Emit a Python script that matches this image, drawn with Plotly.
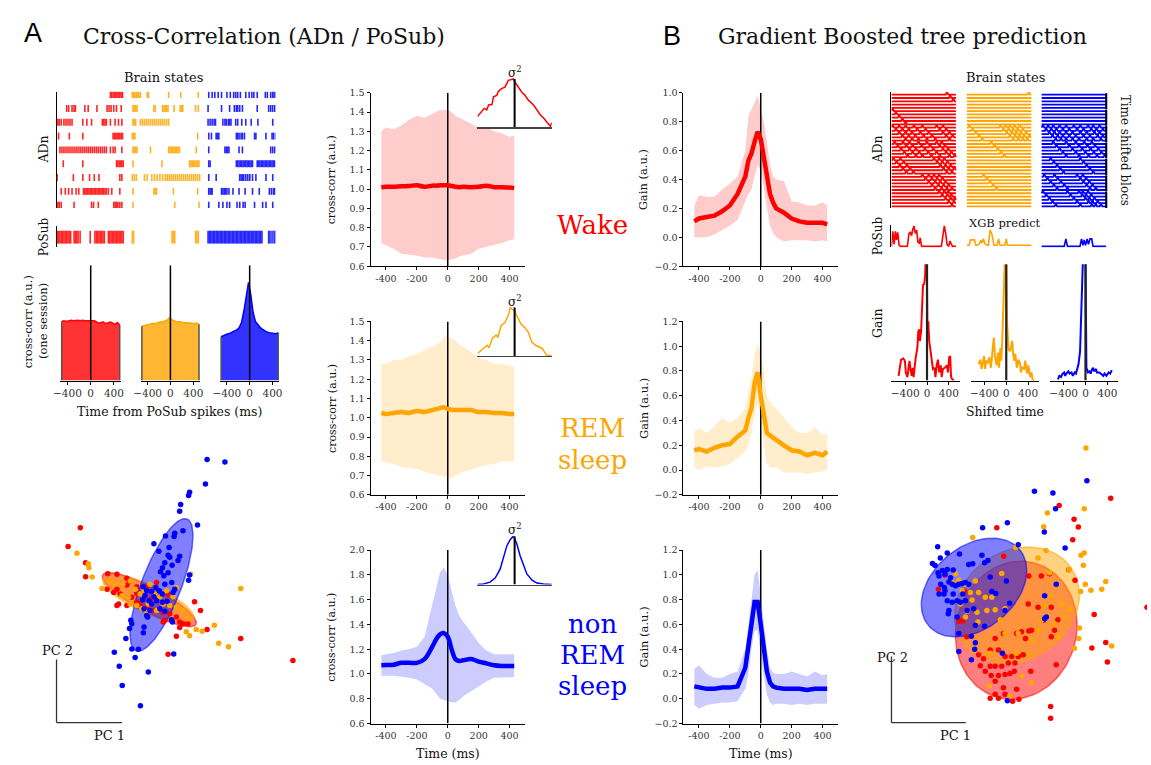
import numpy as np
import plotly.graph_objects as go

W, H = 1151, 765
SERIF = "DejaVu Serif"
SANS = "Liberation Sans"
RED, ORANGE, BLUE = "#ff0000", "#ffa500", "#0000ff"
STATE_COLORS = [RED, ORANGE, BLUE]
STATE_RGB = ["255,0,0", "255,165,0", "0,0,255"]

# ---------------- DATA ----------------
# Left raster: spike times (0-100 within each epoch), 9 ADn neurons, per brain state
adn_spikes_wake = [
    [80, 82, 84, 86, 88, 90, 92, 94, 96, 98],
    [15, 18, 23, 26, 28, 42, 47, 60, 75, 78, 81, 85, 89, 96],
    [0, 2, 4, 7, 11, 14, 17, 20, 23, 39, 45, 52, 68, 70, 72, 74, 80, 87, 92, 97],
    [3, 19, 39, 84, 86, 88, 90, 92, 94, 96, 98],
    [5, 8, 11, 14, 17, 20, 23, 26, 29, 32, 35, 38, 41, 44, 47, 50, 53, 56, 59, 62, 65, 68, 71, 74, 80, 84, 87, 97],
    [10, 39, 89, 91, 93, 95, 97, 99],
    [1, 25, 39, 49, 56, 63, 94, 97],
    [7, 13, 18, 23, 29, 33, 40, 42, 44, 46, 48, 50, 52, 54, 56, 58, 60, 62, 64, 66, 68, 70, 72, 74, 77, 82, 94],
    [0, 2, 4, 7, 26, 52, 55, 62, 85, 87, 89, 91, 94, 97],
]
adn_spikes_rem = [
    [0, 2, 4, 6, 8, 10, 12, 22, 24, 54, 72, 98],
    [1, 3, 5, 7, 32, 34, 45, 47, 49, 51, 53, 62, 71, 73, 75, 94, 98],
    [1, 3, 5, 12, 15, 18, 21, 24, 27, 30, 33, 36, 39, 42, 45, 48, 51, 54],
    [0, 2, 4, 97],
    [1, 3, 5, 7, 27, 54, 56, 58, 60, 62, 64, 66, 68, 70, 95],
    [1, 44, 85, 87, 89, 91, 93, 95, 97, 99],
    [0, 3, 6, 18, 22, 29, 33, 37, 41, 45, 49, 52, 55, 58, 61, 64, 67, 70, 73, 76, 79, 82, 85, 88, 91, 94, 97, 100],
    [1, 32, 34, 36, 61, 97],
    [1, 63, 99],
]
adn_spikes_nrem = [
    [1, 6, 10, 15, 20, 28, 33, 38, 41, 44, 48, 56, 61, 65, 68, 73, 85, 88, 93, 96, 98, 100],
    [0, 20, 32, 39, 42, 44, 47, 51, 73, 90, 93, 96, 99, 101],
    [0, 3, 6, 9, 11, 22, 25, 27, 30, 32, 34, 41, 44, 50, 56, 64, 74, 96],
    [1, 5, 12, 14, 16, 42, 44, 46, 49, 51, 54, 69, 71, 86, 95, 97, 100],
    [1, 25, 27, 29, 31, 46, 51, 93, 96, 99, 101],
    [1, 3, 42, 44, 46, 48, 50, 52, 54, 56, 58, 60, 62, 64, 66, 73, 75, 77, 79, 81, 83, 85, 87, 89, 91, 93, 95, 97, 99],
    [1, 12, 47, 49, 51, 53, 56, 59, 62, 66, 71, 86, 96],
    [1, 3, 5, 6, 20, 22, 24, 26, 28, 31, 37, 46, 55, 66, 76, 91, 94, 97, 99],
    [1, 16, 22, 28, 32, 43, 47, 52, 55, 69, 81, 86, 96],
]
posub_spikes_wake = [1, 3, 5, 7, 9, 11, 13, 15, 17, 19, 21, 26, 28, 30, 32, 35, 50, 57, 59, 61, 63, 65, 67, 69, 71,
                     77, 79, 81, 83, 85, 87, 89, 91, 93, 95, 97, 99]
posub_spikes_rem = [0, 2, 59, 61, 63, 94, 96, 98]
posub_spikes_nrem = [0, 2, 4, 6, 8, 10, 12, 14, 16, 18, 20, 22, 24, 26, 28, 30, 32, 34, 36, 38, 40, 42, 44, 46, 48,
                     50, 52, 54, 56, 58, 60, 62, 64, 66, 68, 70, 72, 74, 76, 78, 80, 90, 92, 95, 98, 100]

# One-session cross-correlograms (ms, a.u.)
hist_t = [-500, -460, -420, -380, -340, -300, -260, -220, -180, -140, -100, -60, -20, 20, 60, 100, 140, 180, 220,
          260, 300, 340, 380, 420, 460, 500]
hist_wake = [1.0, 1.01, 1.0, 1.01, 1.02, 1.01, 1.02, 1.02, 1.01, 1.02, 1.01, 1.01, 1.0, 1.0, 1.01, 0.99, 0.97, 0.98,
             0.99, 0.96, 0.97, 0.99, 0.97, 0.95, 0.98, 0.94]
hist_rem = [0.92, 0.93, 0.93, 0.94, 0.96, 0.97, 0.96, 0.98, 0.99, 0.99, 1.0, 1.02, 1.06, 1.03, 1.01, 1.0, 1.0, 0.99,
            0.98, 0.98, 0.98, 0.97, 0.97, 0.96, 0.97, 0.95]
hist_nrem = [0.74, 0.76, 0.77, 0.79, 0.80, 0.82, 0.84, 0.86, 0.90, 0.99, 1.18, 1.46, 1.66, 1.45, 1.15, 1.0, 0.94,
             0.90, 0.87, 0.84, 0.82, 0.81, 0.80, 0.80, 0.79, 0.81]

# Average cross-correlations (mean and band)
cc_t = [-430, -400, -350, -300, -250, -200, -150, -100, -75, -50, -25, 0, 25, 50, 75, 100, 150, 200, 250, 300, 350,
        400, 430]
cc_wake_mean = [1.010, 1.012, 1.012, 1.015, 1.016, 1.020, 1.012, 1.018, 1.018, 1.020, 1.020, 1.020, 1.016, 1.012,
                1.010, 1.012, 1.010, 1.012, 1.018, 1.010, 1.010, 1.008, 1.005]
cc_wake_hi = [1.30, 1.32, 1.31, 1.33, 1.36, 1.38, 1.37, 1.39, 1.40, 1.41, 1.41, 1.41, 1.40, 1.38, 1.37, 1.36, 1.34,
              1.32, 1.32, 1.30, 1.29, 1.27, 1.28]
cc_wake_lo = [0.72, 0.71, 0.69, 0.665, 0.66, 0.655, 0.645, 0.645, 0.64, 0.635, 0.632, 0.63, 0.635, 0.64, 0.65, 0.655,
              0.665, 0.69, 0.70, 0.71, 0.72, 0.735, 0.74]
cc_rem_mean = [1.025, 1.02, 1.025, 1.03, 1.025, 1.035, 1.03, 1.04, 1.045, 1.05, 1.055, 1.045, 1.042, 1.04, 1.04,
               1.04, 1.04, 1.03, 1.03, 1.025, 1.025, 1.02, 1.02]
cc_rem_hi = [1.28, 1.28, 1.30, 1.30, 1.32, 1.33, 1.35, 1.37, 1.38, 1.39, 1.42, 1.42, 1.41, 1.40, 1.38, 1.37, 1.34,
             1.31, 1.30, 1.28, 1.28, 1.27, 1.265]
cc_rem_lo = [0.775, 0.77, 0.76, 0.745, 0.74, 0.735, 0.72, 0.71, 0.705, 0.70, 0.695, 0.69, 0.685, 0.70, 0.71, 0.72,
             0.73, 0.745, 0.755, 0.76, 0.775, 0.775, 0.775]
cc_nrem_mean = [1.07, 1.072, 1.075, 1.09, 1.09, 1.09, 1.12, 1.22, 1.28, 1.32, 1.33, 1.30, 1.20, 1.12, 1.105, 1.11,
                1.12, 1.10, 1.085, 1.07, 1.065, 1.065, 1.065]
cc_nrem_hi = [1.15, 1.16, 1.17, 1.19, 1.20, 1.22, 1.30, 1.55, 1.70, 1.82, 1.86, 1.80, 1.67, 1.55, 1.47, 1.42, 1.34,
              1.25, 1.19, 1.16, 1.16, 1.16, 1.16]
cc_nrem_lo = [0.985, 0.985, 0.985, 0.98, 0.97, 0.955, 0.92, 0.88, 0.84, 0.80, 0.79, 0.78, 0.77, 0.77, 0.79, 0.82,
              0.86, 0.90, 0.94, 0.97, 0.975, 0.975, 0.975]

# Insets: normalised variance profiles
inset_wake_x = [-1, -0.88, -0.82, -0.75, -0.7, -0.61, -0.57, -0.48, -0.44, -0.35, -0.26, -0.17, -0.08, -0.03, 0.01,
                0.10, 0.19, 0.28, 0.37, 0.51, 0.6, 0.69, 0.78, 0.91, 0.96, 1.0]
inset_wake_y = [0.22, 0.32, 0.39, 0.36, 0.46, 0.47, 0.63, 0.66, 0.74, 0.80, 0.83, 0.97, 0.99, 1.0, 0.93, 0.83, 0.73,
                0.66, 0.56, 0.46, 0.36, 0.26, 0.19, 0.07, 0.02, 0.09]
inset_rem_x = [-1.0, -0.88, -0.79, -0.74, -0.69, -0.60, -0.50, -0.45, -0.36, -0.26, -0.16, -0.12, -0.07, 0, 0.08,
               0.17, 0.27, 0.37, 0.46, 0.56, 0.65, 0.75, 0.85, 1.0]
inset_rem_y = [0.05, 0.12, 0.19, 0.22, 0.17, 0.36, 0.43, 0.39, 0.63, 0.69, 0.86, 1.0, 0.97, 0.93, 0.80, 0.66, 0.59,
               0.49, 0.29, 0.22, 0.19, 0.15, 0.02, 0.0]
inset_nrem_x = [-1, -0.84, -0.66, -0.52, -0.39, -0.30, -0.21, -0.12, -0.05, -0.01, 0.06, 0.15, 0.24, 0.33, 0.47,
                0.60, 0.78, 1.0]
inset_nrem_y = [0, 0.01, 0.05, 0.14, 0.32, 0.56, 0.80, 0.93, 0.99, 0.97, 0.84, 0.59, 0.39, 0.22, 0.09, 0.03, 0.01, 0]

# Gain (XGB) per state
gain_t = [-430, -400, -350, -300, -250, -200, -150, -100, -80, -60, -40, -20, 0, 20, 40, 60, 80, 100, 150, 200, 250,
          300, 350, 400, 430]
gain_wake_mean = [0.11, 0.13, 0.14, 0.15, 0.18, 0.22, 0.30, 0.42, 0.53, 0.58, 0.66, 0.73, 0.68, 0.55, 0.40, 0.30,
                  0.24, 0.20, 0.17, 0.13, 0.11, 0.10, 0.10, 0.10, 0.09]
gain_wake_hi = [0.22, 0.29, 0.28, 0.28, 0.33, 0.37, 0.42, 0.60, 0.84, 0.88, 0.93, 0.98, 0.90, 0.80, 0.66, 0.50, 0.42,
                0.40, 0.39, 0.25, 0.24, 0.22, 0.22, 0.24, 0.22]
gain_wake_lo = [0.0, 0.0, 0.0, 0.02, 0.05, 0.08, 0.12, 0.25, 0.30, 0.33, 0.42, 0.50, 0.46, 0.35, 0.20, 0.08, 0.03,
                0.0, -0.03, -0.02, -0.02, -0.02, -0.03, -0.02, -0.03]
gain_rem_mean = [0.16, 0.17, 0.15, 0.18, 0.20, 0.21, 0.27, 0.32, 0.42, 0.50, 0.70, 0.79, 0.60, 0.42, 0.30, 0.28, 0.26,
                 0.24, 0.20, 0.16, 0.15, 0.12, 0.14, 0.12, 0.15]
gain_rem_hi = [0.31, 0.34, 0.30, 0.35, 0.42, 0.38, 0.42, 0.50, 0.62, 0.75, 0.93, 1.02, 0.95, 0.80, 0.60, 0.55, 0.52,
               0.50, 0.42, 0.35, 0.30, 0.30, 0.35, 0.28, 0.30]
gain_rem_lo = [0.02, 0.0, 0.03, 0.02, 0.03, 0.05, 0.10, 0.15, 0.20, 0.30, 0.45, 0.55, 0.45, 0.20, 0.05, 0.02, 0.02,
               0.02, -0.02, -0.02, -0.02, -0.03, -0.02, -0.01, 0.0]
gain_nrem_mean = [0.10, 0.09, 0.08, 0.08, 0.09, 0.09, 0.10, 0.25, 0.40, 0.60, 0.78, 0.78, 0.60, 0.40, 0.22, 0.13,
                  0.10, 0.09, 0.08, 0.08, 0.08, 0.07, 0.08, 0.08, 0.08]
gain_nrem_hi = [0.24, 0.27, 0.20, 0.17, 0.17, 0.20, 0.22, 0.40, 0.60, 0.80, 1.00, 1.04, 0.85, 0.62, 0.40, 0.25, 0.21,
                0.20, 0.20, 0.22, 0.20, 0.18, 0.22, 0.19, 0.20]
gain_nrem_lo = [-0.05, -0.08, -0.05, -0.04, -0.03, -0.03, -0.02, 0.08, 0.20, 0.40, 0.55, 0.55, 0.35, 0.18, 0.03,
                -0.03, -0.05, -0.04, -0.04, -0.05, -0.04, -0.05, -0.04, -0.04, -0.04]

# Right raster: spike events of each time-shifted bloc (7 blocs x 5 shifted copies)
bloc_events_wake = [[86], [2], [2, 12, 22, 35, 48, 70, 80], [5, 18, 28, 42, 55, 70, 78], [3, 14, 66, 74, 82],
                    [48, 58, 66, 74], [74, 82, 88]]
bloc_events_rem = [[96], [], [4, 52, 60, 67, 74, 82], [38], [], [26], []]
bloc_events_nrem = [[], [], [2, 10, 18, 28, 38, 50, 60, 72, 80, 90], [18, 38, 53, 66, 78], [14, 60],
                    [4, 20, 55, 64], [2, 40, 58, 64, 72]]
bloc_shift = 5  # time shift between consecutive copies (epoch units)
n_shifts = 5

# XGB prediction of PoSub
xgb_t_wake = [0, 2.1, 4.1, 6.2, 7.7, 9.7, 11.8, 14.4, 24.6, 27.2, 29.2, 31.3, 32.8, 34.9, 36.9, 39, 41, 43.1, 44.6,
              46.7, 77.4, 80, 82, 84.1, 86.2, 88.7, 90.8, 92.8, 94.9, 100]
xgb_wake = [0, 0.7, 0.1, 0.7, 0.3, 0.65, 0.05, 0, 0, 0.6, 0.65, 0.5, 0.75, 0.95, 0.6, 0.75, 0.2, 0.15, 0.4, 0, 0, 0.5,
            0.95, 0.6, 0.1, 0, 0.25, 0.1, 0, 0]
xgb_t_rem = [0, 3.6, 5.6, 11.8, 13.8, 15.9, 19, 21.5, 23.1, 25.6, 28.2, 33.3, 35.9, 38.5, 40.5, 42.1, 46.7, 49.2, 51.3,
             59, 61, 63.1, 100]
xgb_rem = [0.05, 0.05, 0.3, 0.3, 0.05, 0.05, 0.1, 0.3, 0.15, 0.35, 0.1, 0.05, 0.75, 0.6, 0.3, 0.05, 0.05, 0.35, 0.05,
           0.05, 0.35, 0.05, 0.05]
xgb_t_nrem = [0, 35, 37.6, 40.1, 59.4, 61.9, 64, 66, 68, 70.6, 72.6, 75.1, 77.7, 79.7, 100]
xgb_nrem = [0, 0, 0.35, 0, 0, 0.35, 0.05, 0.3, 0.05, 0.35, 0.1, 0.35, 0.35, 0, 0]

# Gain vs shifted time (one session)
shift_t_wake = [-520, -474, -434, -405, -388, -360, -337, -320, -303, -280, -263, -246, -206, -177, -160, -143, -131,
                -108, -91, -74, -51, -34, -17, -6, 6, 23, 40, 63, 80, 108, 137, 154, 177, 200, 223, 251, 268, 291,
                326, 366, 383, 406, 423, 440, 463, 497]
shift_gain_wake = [0.04, 0.18, 0.19, 0.17, 0.07, 0.03, 0.11, 0.17, 0.10, 0.04, 0.11, 0.03, 0.20, 0.28, 0.42, 0.44,
                   0.34, 0.42, 0.62, 0.82, 0.83, 0.90, 1.2, 1.2, 0.48, 0.51, 0.34, 0.25, 0.18, 0.10, 0.11, 0.03, 0.13,
                   0.18, 0.07, 0.13, 0.03, 0.10, 0.11, 0.13, 0.07, 0.20, 0.21, 0.03, 0.01, 0.0]
shift_t_rem = [-503, -474, -451, -428, -405, -388, -365, -337, -308, -280, -251, -228, -206, -177, -148, -131, -108,
               -91, -74, -51, -34, -17, 0, 15, 40, 63, 80, 108, 126, 148, 166, 194, 223, 251, 268, 291, 326, 348, 383,
               405, 440, 463, 485, 508]
shift_gain_rem = [0.14, 0.18, 0.10, 0.17, 0.21, 0.10, 0.17, 0.15, 0.20, 0.11, 0.23, 0.37, 0.21, 0.13, 0.24, 0.11,
                  0.28, 0.17, 0.34, 0.62, 0.92, 1.15, 1.0, 0.5, 0.28, 0.25, 0.27, 0.34, 0.23, 0.17, 0.23, 0.11, 0.18,
                  0.15, 0.07, 0.11, 0.10, 0.17, 0.06, 0.13, 0.03, 0.07, 0.0, 0.01]
shift_t_nrem = [-505, -476, -447, -418, -389, -371, -348, -313, -290, -255, -232, -197, -174, -151, -128, -99, -70,
                -46, -30, -15, 0, 10, 17, 46, 75, 93, 116, 133, 162, 191, 209, 249, 278, 325, 348, 383, 423, 452, 481]
shift_gain_nrem = [0.01, 0.04, 0.03, 0.06, 0.07, 0.04, 0.06, 0.08, 0.06, 0.07, 0.04, 0.07, 0.06, 0.10, 0.14, 0.25,
                   0.62, 0.99, 1.3, 1.3, 1.1, 0.5, 0.11, 0.07, 0.08, 0.06, 0.10, 0.11, 0.08, 0.10, 0.07, 0.07, 0.06,
                   0.04, 0.06, 0.04, 0.07, 0.06, 0.09]

# PCA of cross-correlations (left) and of gains (right), arbitrary units
pcaA_wake_pc1 = [129, 92, 145, 145, 212, 240, 270, 278, 240, 210, 230, 250, 270, 300, 330, 300, 285, 245, 240, 270, 300,
                 330, 350, 380, 400, 420, 385, 430, 440, 455, 475, 493, 430, 513, 420, 615, 395, 773, 380, 310, 345,
                 360, 395]
pcaA_wake_pc2 = [-268, -325, -375, -417, -408, -410, -422, -432, -455, -455, -465, -470, -442, -448, -450, -468, -480,
                 -500, -505, -505, -495, -510, -520, -525, -530, -540, -550, -555, -560, -560, -493, -520, -572, -578,
                 -598, -605, -653, -672, -555, -500, -483, -435, -470]
pcaA_rem_pc1 = [119, 153, 155, 165, 195, 220, 235, 258, 280, 295, 310, 322, 340, 355, 370, 390, 410, 380, 360, 330, 315,
                300, 275, 255, 420, 440, 455, 463, 420, 615, 535, 480, 498, 450, 460, 548, 578, 335, 280, 400]
pcaA_rem_pc2 = [-346, -378, -390, -418, -453, -432, -440, -440, -430, -455, -470, -458, -440, -470, -478, -460, -478,
                -500, -520, -525, -515, -505, -480, -475, -510, -520, -545, -410, -450, -453, -565, -578, -583, -585,
                -597, -620, -630, -500, -500, -505]
pcaA_nrem_pc1 = [513, 567, 508, 460, 457, 433, 430, 484, 440, 415, 387, 413, 352, 398, 367, 395, 400, 430, 425, 385,
                 407, 378, 395, 372, 382, 460, 457, 406, 385, 415, 320, 330, 345, 358, 368, 377, 352, 325, 318, 337,
                 360, 378, 392, 410, 370, 385, 340, 322, 330, 405, 408, 282, 285, 322, 278, 320, 267, 285, 305, 232,
                 295, 412, 247, 335, 256, 311, 333, 345]
pcaA_nrem_pc2 = [-60, -68, -135, -160, -170, -197, -218, -260, -277, -285, -293, -295, -317, -328, -340, -352, -358,
                 -355, -368, -375, -382, -390, -405, -402, -414, -412, -428, -435, -440, -455, -448, -460, -462, -450,
                 -460, -470, -478, -475, -487, -490, -490, -495, -492, -465, -515, -522, -520, -515, -535, -548, -555,
                 -550, -560, -570, -575, -588, -605, -637, -638, -647, -663, -652, -690, -707, -748, -810, -540, -500]
pcaB_wake_pc1 = [760, 604, 649, 662, 645, 415, 436, 258, 238, 318, 300, 312, 324, 633, 652, 512, 550, 575, 510, 540,
                 580, 600, 556, 520, 512, 490, 475, 502, 435, 410, 395, 420, 440, 460, 480, 495, 360, 375, 395, 410,
                 430, 450, 470, 365, 380, 398, 420, 440, 455, 468, 518, 410, 435, 410, 440, 475, 395, 420, 463, 482,
                 578, 578, 595, 703, 745, 750, 710, 870, 580, 590]
pcaB_wake_pc2 = [-178, -200, -242, -266, -305, -268, -355, -412, -455, -462, -552, -552, -600, -396, -428, -415, -415,
                 -408, -500, -510, -510, -548, -550, -580, -582, -585, -590, -605, -590, -605, -640, -640, -660, -660,
                 -660, -655, -655, -667, -690, -690, -690, -680, -680, -688, -705, -718, -718, -715, -712, -705, -705,
                 -735, -755, -775, -775, -760, -787, -787, -796, -790, -812, -848, -685, -634, -617, -677, -532, -510,
                 -600, -580]
pcaB_rem_pc1 = [685, 680, 568, 557, 342, 472, 564, 540, 670, 680, 677, 634, 575, 430, 290, 300, 282, 318, 350, 310,
                335, 360, 380, 400, 340, 305, 325, 355, 385, 410, 440, 426, 358, 320, 683, 700, 733, 745, 669, 636,
                612, 665, 663, 650, 763, 560, 580, 540, 520, 512, 475, 395, 392, 490, 520, 455, 590, 550, 480, 440,
                600, 620]
pcaB_rem_pc2 = [-25, -210, -223, -265, -298, -328, -337, -360, -352, -345, -382, -395, -405, -407, -408, -428, -435,
                -440, -430, -460, -465, -465, -480, -480, -488, -500, -522, -525, -520, -518, -515, -548, -555, -540,
                -440, -458, -455, -432, -462, -516, -500, -573, -605, -635, -628, -505, -478, -580, -610, -655, -650,
                -650, -750, -720, -740, -780, -560, -550, -590, -590, -600, -540]
pcaB_nrem_pc1 = [688, 529, 585, 593, 447, 372, 559, 622, 480, 236, 244, 220, 228, 265, 302, 330, 342, 370, 378, 388,
                 237, 240, 250, 258, 265, 275, 283, 245, 256, 270, 280, 290, 300, 310, 320, 330, 240, 255, 265, 280,
                 295, 305, 320, 270, 268, 295, 325, 345, 395, 444, 400, 412, 440, 454, 350, 378, 300, 338, 350, 348,
                 300, 338, 432, 595, 560, 560, 565, 447, 258, 283, 312]
pcaB_nrem_pc2 = [-125, -157, -162, -210, -253, -268, -281, -330, -320, -326, -360, -377, -383, -345, -348, -380, -378,
                 -352, -375, -368, -405, -415, -398, -410, -395, -420, -397, -440, -450, -433, -440, -445, -440, -438,
                 -435, -440, -470, -470, -490, -495, -490, -495, -490, -520, -530, -540, -520, -515, -418, -430, -462,
                 -468, -520, -498, -565, -568, -590, -598, -618, -638, -645, -670, -650, -440, -475, -545, -540, -795,
                 -460, -470, -470]
# covariance ellipses: centre pc1, centre pc2, semi-axes, orientation (deg) for wake / REM / nREM
ellA_c1 = [338, 335, 375]
ellA_c2 = [-487, -485, -442]
ellA_a = [160, 150, 215]
ellA_b = [38, 42, 60]
ellA_ang = [-28, -24, 69]
ellB_c1 = [474, 476, 346]
ellB_c2 = [-580, -504, -450]
ellB_a = [212, 200, 180]
ellB_b = [182, 165, 125]
ellB_ang = [75, 35, 40]

# ---------------- FIGURE ----------------
fig = go.Figure()
axes_layout = {}
counter = [0]


def fx(px):
    return px / W


def fy(py):
    return 1 - py / H


def new_axes(xpx, ypx, xr, yr, xkw=None, ykw=None):
    counter[0] += 1
    n = counter[0]
    xn = 'xaxis' if n == 1 else f'xaxis{n}'
    yn = 'yaxis' if n == 1 else f'yaxis{n}'
    xr_ = 'x' if n == 1 else f'x{n}'
    yr_ = 'y' if n == 1 else f'y{n}'
    base = dict(showgrid=False, zeroline=False, showline=False, showticklabels=False, ticks='', fixedrange=True)
    xa = dict(base, domain=[max(fx(xpx[0]), 0), min(fx(xpx[1]), 1)], range=xr, anchor=yr_)
    ya = dict(base, domain=[max(fy(ypx[1]), 0), min(fy(ypx[0]), 1)], range=yr, anchor=xr_)
    xa.update(xkw or {})
    ya.update(ykw or {})
    axes_layout[xn] = xa
    axes_layout[yn] = ya
    return xr_, yr_


TICKFONT = dict(family=SERIF, size=9.5, color='#333')
TICKFONT_BIG = dict(family=SERIF, size=10.5, color='#333')


def spine(tickvals=None, ticktext=None, color='black', width=1, font=TICKFONT):
    d = dict(showline=True, linecolor=color, linewidth=width)
    if tickvals is not None:
        d.update(ticks='outside', ticklen=3, tickwidth=1, tickcolor='black', tickvals=tickvals,
                 ticktext=ticktext, showticklabels=True, tickfont=font)
    return d


def add(trace, ax):
    trace.update(xaxis=ax[0], yaxis=ax[1], showlegend=False, hoverinfo='skip')
    fig.add_trace(trace)


# ---- Left raster (ADn) ----
epoch_offset = [0, 112.5, 225]
ax = new_axes((49, 270), (87, 205), [0, 325], [0.79, 9.21], ykw=spine())
for s, spikes in enumerate([adn_spikes_wake, adn_spikes_rem, adn_spikes_nrem]):
    xs, ys = [], []
    for i, row in enumerate(spikes):
        yc = 9 - i
        for t in row:
            xs += [t + epoch_offset[s], t + epoch_offset[s], None]
            ys += [yc - 0.25, yc + 0.25, None]
    add(go.Scatter(x=xs, y=ys, mode='lines', line=dict(color=STATE_COLORS[s], width=1.6), opacity=0.85), ax)

ax = new_axes((49, 270), (223, 245), [0, 325], [0, 1], ykw=spine())
for s, row in enumerate([posub_spikes_wake, posub_spikes_rem, posub_spikes_nrem]):
    xs, ys = [], []
    for t in row:
        xs += [t + epoch_offset[s], t + epoch_offset[s], None]
        ys += [0.18, 0.77, None]
    add(go.Scatter(x=xs, y=ys, mode='lines', line=dict(color=STATE_COLORS[s], width=1.6), opacity=0.85), ax)

# ---- One-session histograms ----
hist_dom = [(53, 114), (134, 194), (214, 274)]
for s, vals in enumerate([hist_wake, hist_rem, hist_nrem]):
    ax = new_axes(hist_dom[s], (263, 380), [-520, 520], [0, 1.95],
                  xkw=spine([-400, 0, 400], ['\u2212400', '0', '400'], font=TICKFONT_BIG))
    add(go.Scatter(x=hist_t, y=vals, mode='lines', fill='tozeroy', fillcolor=f'rgba({STATE_RGB[s]},0.8)',
                   line=dict(color=STATE_COLORS[s], width=1.5)), ax)
    add(go.Scatter(x=[hist_t[0], hist_t[0], None, hist_t[-1], hist_t[-1]], y=[0, vals[0], None, 0, vals[-1]],
                   mode='lines', line=dict(color='#555', width=1.5)), ax)
    add(go.Scatter(x=[0, 0], y=[0, 1.95], mode='lines', line=dict(color='black', width=1.5)), ax)

# ---- Average cross-correlations + gains ----
rows_px = [(88, 264), (320, 496), (552, 728)]
cc_sets = [(cc_wake_mean, cc_wake_lo, cc_wake_hi), (cc_rem_mean, cc_rem_lo, cc_rem_hi),
           (cc_nrem_mean, cc_nrem_lo, cc_nrem_hi)]
gain_sets = [(gain_wake_mean, gain_wake_lo, gain_wake_hi), (gain_rem_mean, gain_rem_lo, gain_rem_hi),
             (gain_nrem_mean, gain_nrem_lo, gain_nrem_hi)]
xt_vals = [-400, -200, 0, 200, 400]
xt_text = ['-400', '-200', '0', '200', '400']
cc_yr = [[0.6, 1.5], [0.6, 1.5], [0.6, 2.0]]
cc_ticks = [[0.6, 0.7, 0.8, 0.9, 1.0, 1.1, 1.2, 1.3, 1.4, 1.5], [0.6, 0.7, 0.8, 0.9, 1.0, 1.1, 1.2, 1.3, 1.4, 1.5],
            [0.6, 0.8, 1.0, 1.2, 1.4, 1.6, 1.8, 2.0]]
gain_yr = [[-0.2, 1.0], [-0.2, 1.2], [-0.2, 1.2]]
gain_ticks = [[-0.2, 0.0, 0.2, 0.4, 0.6, 0.8, 1.0], [-0.2, 0.0, 0.2, 0.4, 0.6, 0.8, 1.0, 1.2],
              [-0.2, 0.0, 0.2, 0.4, 0.6, 0.8, 1.0, 1.2]]
insets = [(inset_wake_x, inset_wake_y), (inset_rem_x, inset_rem_y), (inset_nrem_x, inset_nrem_y)]


def fmt(v):
    return f'{v:.1f}'.replace('-', '\u2212')


for s in range(3):
    yp = rows_px[s]
    mean, lo, hi = cc_sets[s]
    ax = new_axes((366, 522), yp, [-500, 500], cc_yr[s], xkw=spine(xt_vals, xt_text),
                  ykw=spine(cc_ticks[s], [f'{v:.1f}' for v in cc_ticks[s]]))
    add(go.Scatter(x=cc_t + cc_t[::-1], y=hi + lo[::-1], mode='lines', fill='toself',
                   fillcolor=f'rgba({STATE_RGB[s]},0.2)', line=dict(width=0)), ax)
    add(go.Scatter(x=[0, 0], y=cc_yr[s], mode='lines', line=dict(color='black', width=1.5)), ax)
    add(go.Scatter(x=cc_t, y=mean, mode='lines', line=dict(color=STATE_COLORS[s], width=4.5, shape='spline')), ax)

    # inset
    ix, iy = insets[s]
    ax = new_axes((474, 549), (yp[0] - 15, yp[0] + 35), [-1.0, 1.0], [0, 1.02], xkw=spine(color='#444', width=1.5))
    add(go.Scatter(x=ix, y=iy, mode='lines', line=dict(color=STATE_COLORS[s], width=1.5)), ax)
    add(go.Scatter(x=[0, 0], y=[0, 1.0], mode='lines', line=dict(color='black', width=2)), ax)

    mean, lo, hi = gain_sets[s]
    ax = new_axes((682, 838), yp, [-500, 500], gain_yr[s], xkw=spine(xt_vals, xt_text),
                  ykw=spine(gain_ticks[s], [fmt(v) for v in gain_ticks[s]]))
    add(go.Scatter(x=gain_t + gain_t[::-1], y=hi + lo[::-1], mode='lines', fill='toself',
                   fillcolor=f'rgba({STATE_RGB[s]},0.2)', line=dict(width=0)), ax)
    add(go.Scatter(x=[0, 0], y=gain_yr[s], mode='lines', line=dict(color='black', width=1.5)), ax)
    add(go.Scatter(x=gain_t, y=mean, mode='lines', line=dict(color=STATE_COLORS[s], width=4.5)), ax)

# ---- Right raster (time shifted blocs) ----
block_offset = [0, 117, 233]
n_rows = len(bloc_events_wake) * n_shifts
ax = new_axes((892, 1110), (87, 205), [0, 335], [0.5, n_rows + 0.9], ykw=spine())
for s, blocs in enumerate([bloc_events_wake, bloc_events_rem, bloc_events_nrem]):
    xs, ys = [], []
    for b, events in enumerate(blocs):
        for r in range(n_shifts):
            yc = n_rows - (b * n_shifts + r)
            bumps = sorted(e + r * bloc_shift for e in events if 0 < e + r * bloc_shift < 100)
            px, py = [0], [yc]
            for p in bumps:
                px += [max(p - 2, 0), p, min(p + 2, 100)]
                py += [yc, yc + 0.85, yc]
            px.append(100)
            py.append(yc)
            xs += [v + block_offset[s] for v in px] + [None]
            ys += py + [None]
    add(go.Scatter(x=xs, y=ys, mode='lines', line=dict(color=STATE_COLORS[s], width=1.8)), ax)
sep_x, sep_y = [], []
for b in range(len(bloc_events_wake)):
    top = n_rows - b * n_shifts + 0.45
    bot = n_rows - (b * n_shifts + n_shifts - 1) - 0.45
    sep_x += [block_offset[2] + 100.5, block_offset[2] + 100.5, None]
    sep_y += [bot, top, None]
add(go.Scatter(x=sep_x, y=sep_y, mode='lines', line=dict(color='black', width=2.5)), ax)

ax = new_axes((892, 1110), (222, 245), [0, 335], [-0.05, 1], ykw=spine())
for s, (tt, vv) in enumerate([(xgb_t_wake, xgb_wake), (xgb_t_rem, xgb_rem), (xgb_t_nrem, xgb_nrem)]):
    add(go.Scatter(x=[t + block_offset[s] for t in tt], y=vv, mode='lines',
                   line=dict(color=STATE_COLORS[s], width=1.6)), ax)

# ---- Gain vs shifted time ----
shift_dom = [(892, 961), (972, 1041), (1052, 1121)]
for s, (tt, vv) in enumerate([(shift_t_wake, shift_gain_wake), (shift_t_rem, shift_gain_rem),
                              (shift_t_nrem, shift_gain_nrem)]):
    ax = new_axes(shift_dom[s], (262, 380), [-650, 600], [0, 1],
                  xkw=spine([-400, 0, 400], ['\u2212400', '0', '400'], font=TICKFONT_BIG))
    add(go.Scatter(x=tt, y=vv, mode='lines', line=dict(color=STATE_COLORS[s], width=2)), ax)
    add(go.Scatter(x=[0, 0], y=[0, 1], mode='lines', line=dict(color='#222', width=2.2)), ax)

# ---- PCA scatters ----
theta = np.linspace(0, 2 * np.pi, 120)


def ellipse(cx, cy, a, b, ang):
    phi = np.deg2rad(ang)
    ex = cx + a * np.cos(theta) * np.cos(phi) - b * np.sin(theta) * np.sin(phi)
    ey = cy + a * np.cos(theta) * np.sin(phi) + b * np.sin(theta) * np.cos(phi)
    return ex, ey


for (xpx, pts, ell) in [
    ((30, 310), [(pcaA_wake_pc1, pcaA_wake_pc2), (pcaA_rem_pc1, pcaA_rem_pc2), (pcaA_nrem_pc1, pcaA_nrem_pc2)],
     (ellA_c1, ellA_c2, ellA_a, ellA_b, ellA_ang)),
    ((860, 1150), [(pcaB_wake_pc1, pcaB_wake_pc2), (pcaB_rem_pc1, pcaB_rem_pc2), (pcaB_nrem_pc1, pcaB_nrem_pc2)],
     (ellB_c1, ellB_c2, ellB_a, ellB_b, ellB_ang))]:
    ax = new_axes(xpx, (440, 750), [0, (xpx[1] - xpx[0]) * 3], [-930, 0])
    for s in range(3):
        ex, ey = ellipse(ell[0][s], ell[1][s], ell[2][s], ell[3][s], ell[4][s])
        add(go.Scatter(x=ex, y=ey, mode='lines', fill='toself', fillcolor=f'rgba({STATE_RGB[s]},0.5)',
                       line=dict(color=f'rgba({STATE_RGB[s]},0.55)', width=1.5)), ax)
    for s in range(3):
        add(go.Scatter(x=pts[s][0], y=pts[s][1], mode='markers',
                       marker=dict(color=STATE_COLORS[s], size=5.5, line=dict(width=0))), ax)

# ---- scale bars (PC axes) ----
shapes = []
for (x0, ytop, x1) in [(49, 663, 115), (892, 660, 967)]:
    shapes.append(dict(type='line', xref='paper', yref='paper', x0=fx(x0), x1=fx(x0), y0=fy(ytop),
                       y1=fy(727), line=dict(color='#333', width=1.3)))
    shapes.append(dict(type='line', xref='paper', yref='paper', x0=fx(x0), x1=fx(x1), y0=fy(727),
                       y1=fy(727), line=dict(color='#333', width=1.3)))

# ---- texts ----
annotations = []


def txt(text, px, py, size, color='#111', angle=0, family=SERIF):
    annotations.append(dict(text=text, x=fx(px), y=fy(py), xref='paper', yref='paper', showarrow=False,
                            font=dict(family=family, size=size, color=color), textangle=angle,
                            xanchor='center', yanchor='middle'))


txt('A', 25, 27, 27, color='black', family=SANS)
txt('B', 670, 30, 27, color='black', family=SANS)
txt('Cross-Correlation (ADn / PoSub)', 258, 31, 22)
txt('Gradient Boosted tree prediction', 903, 31, 22)
txt('Brain states', 157, 73, 13)
txt('ADn', 36, 146, 12.5, angle=-90)
txt('PoSub', 36, 234, 12, angle=-90)
txt('cross-corr (a.u.)', 21, 320, 11.5, angle=-90)
txt('(one session)', 36, 320, 11.5, angle=-90)
txt('Time from PoSub spikes (ms)', 163, 411, 12.5)
for s in range(3):
    yc = (rows_px[s][0] + rows_px[s][1]) / 2
    txt('cross-corr (a.u.)', 327, yc, 11, angle=-90)
    txt('Gain (a.u.)', 642, yc, 11.5, angle=-90)
    txt('\u03c3<sup>2</sup>', 512, rows_px[s][0] - 21, 12)
txt('Time (ms)', 444, 758, 12.5)
txt('Time (ms)', 760, 758, 12.5)
txt('Wake', 590, 222, 26, color=RED)
txt('REM', 590, 428, 26, color=ORANGE)
txt('sleep', 590, 461, 26, color=ORANGE)
txt('non', 590, 627, 26, color=BLUE)
txt('REM', 590, 658, 26, color=BLUE)
txt('sleep', 590, 690, 26, color=BLUE)
txt('Brain states', 1007, 73, 13)
txt('ADn', 878, 146, 12.5, angle=-90)
txt('PoSub', 878, 233, 12, angle=-90)
txt('XGB predict', 1007, 220, 11.5)
txt('Time shifted blocs', 1128, 146, 12, angle=90)
txt('Gain', 878, 322, 12.5, angle=-90)
txt('Shifted time', 1007, 411, 12.5)
txt('PC 2', 50, 654, 13)
txt('PC 1', 102, 740, 13)
txt('PC 2', 893, 661, 13)
txt('PC 1', 957, 740, 13)

fig.update_layout(width=W, height=H, margin=dict(l=0, r=0, t=0, b=0), autosize=False,
                  paper_bgcolor='white', plot_bgcolor='rgba(0,0,0,0)', font=dict(family=SERIF),
                  showlegend=False, shapes=shapes, annotations=annotations, **axes_layout)

fig.write_html("out.html", config={'displayModeBar': False, 'staticPlot': True},
               post_script="document.body.style.margin='0px';document.body.style.overflow='hidden';")
